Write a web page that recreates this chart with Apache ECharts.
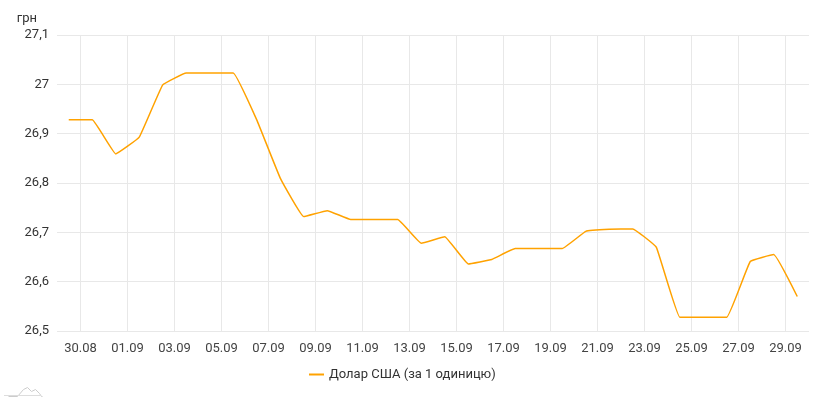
<!DOCTYPE html>
<html>
<head>
<meta charset="utf-8">
<script src="https://cdn.jsdelivr.net/npm/echarts@6/dist/echarts.min.js"></script>
<style>
html,body{margin:0;padding:0;background:#fff;}
#chart{width:829px;height:400px;}
</style>
</head>
<body>
<div id="chart"></div>
<script>
// Daily observation dates (values plotted at mid-day)
const dates = ['29.08','30.08','31.08','01.09','02.09','03.09','04.09','05.09','06.09','07.09',
  '08.09','09.09','10.09','11.09','12.09','13.09','14.09','15.09','16.09','17.09',
  '18.09','19.09','20.09','21.09','22.09','23.09','24.09','25.09','26.09','27.09',
  '28.09','29.09'];
// Axis day boundaries (labels shown every second day)
const tickLabels = dates.concat(['30.09']);
const usdRate = [26.928,26.928,26.859,26.893,26.999,27.023,27.023,27.023,26.928,26.810,
  26.732,26.744,26.726,26.726,26.726,26.678,26.691,26.636,26.645,26.667,
  26.667,26.667,26.702,26.706,26.707,26.670,26.528,26.528,26.528,26.641,
  26.655,26.570];
const seriesName = 'Долар США (за 1 одиницю)';
const yMin = 26.5, yMax = 27.1, yStep = 0.1;

const chart = echarts.init(document.getElementById('chart'), null, {renderer:'canvas'});
const font = 'Roboto, "Noto Sans", sans-serif';
const showOdd = (i) => i % 2 === 1;

chart.setOption({
  animation: false,
  textStyle: {fontFamily: font},
  grid: {left: 57, right: 20, top: 35, bottom: 69, containLabel: false},
  legend: {
    data: [{name: seriesName, icon: 'rect'}],
    left: 304, bottom: 14,
    itemWidth: 15, itemHeight: 2, itemGap: 10,
    textStyle: {fontSize: 13, color: '#333', fontFamily: font}
  },
  xAxis: [
    {
      type: 'category', data: tickLabels, boundaryGap: false,
      axisLine: {show: false}, axisTick: {show: false},
      axisLabel: {interval: showOdd, color: '#444', fontSize: 13, margin: 11, fontFamily: font},
      splitLine: {show: true, interval: showOdd, lineStyle: {color: '#e8e8e8', width: 1}}
    },
    {type: 'value', min: 0, max: dates.length, show: false}
  ],
  yAxis: {
    type: 'value', min: yMin, max: yMax, interval: yStep,
    name: 'грн', nameLocation: 'end', nameGap: 10,
    nameTextStyle: {color: '#333', fontSize: 13, align: 'right', padding: [0, 20, 0, 0], fontFamily: font},
    axisLine: {show: false}, axisTick: {show: false},
    axisLabel: {color: '#333', fontSize: 13, margin: 8, fontFamily: font,
      formatter: (v) => String(+v.toFixed(1)).replace('.', ',')},
    splitLine: {lineStyle: {color: '#e8e8e8', width: 1}}
  },
  series: [{
    name: seriesName, type: 'line', xAxisIndex: 1,
    data: usdRate.map((v, i) => [i + 0.5, v]),
    smooth: 0.08, showSymbol: false, symbol: 'none',
    lineStyle: {color: '#FFA200', width: 1.5},
    itemStyle: {color: '#FFA200'}
  }],
  graphic: [{
    type: 'polyline', left: 6, top: 385, silent: true,
    shape: {points: [[0,10],[9,10],[15,3],[19,1],[23,5],[27,3],[31,7],[33,10],[34,10]]},
    style: {stroke: '#cccccc', lineWidth: 1, fill: null}
  },{
    type: 'line', silent: true,
    shape: {x1: 4, y1: 395.5, x2: 40, y2: 395.5},
    style: {stroke: '#dddddd', lineWidth: 1}
  }]
});
</script>
</body>
</html>
